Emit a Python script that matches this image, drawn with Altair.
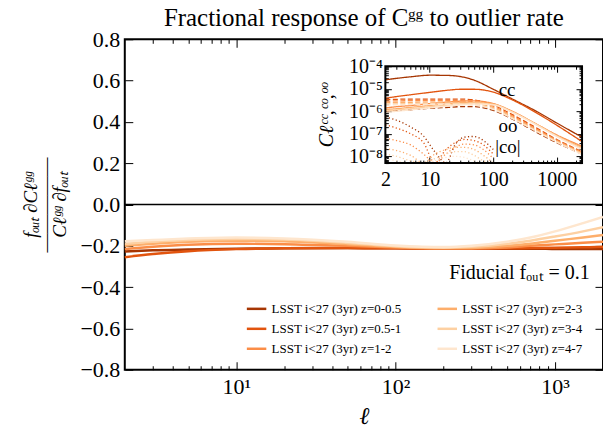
import altair as alt
import pandas as pd

W, H = 479, 331
IN_LEFT, IN_RIGHT, IN_TOP, IN_BOTTOM = 261, 458, 27, 124
SERIF = "Liberation Serif"

# ---------------- main panel data ----------------
BIN_LABELS = ["LSST i<27 (3yr) z=0-0.5", "LSST i<27 (3yr) z=0.5-1", "LSST i<27 (3yr) z=1-2",
              "LSST i<27 (3yr) z=2-3", "LSST i<27 (3yr) z=3-4", "LSST i<27 (3yr) z=4-7"]
COLORS = ["#a63603", "#e2540e", "#fb8d47", "#fdae6b", "#fdd0a2", "#fee6ce"]

L_MAIN = [2, 3, 5, 10, 20, 50, 100, 200, 300, 500, 700, 1000, 1500, 2000]
RESP_Z0 = [-0.228, -0.222, -0.218, -0.214, -0.212, -0.211, -0.212, -0.213, -0.213, -0.214, -0.214, -0.215, -0.215, -0.215]
RESP_Z1 = [-0.255, -0.240, -0.226, -0.216, -0.212, -0.211, -0.212, -0.213, -0.213, -0.212, -0.211, -0.209, -0.207, -0.205]
RESP_Z2 = [-0.215, -0.205, -0.195, -0.190, -0.192, -0.200, -0.208, -0.212, -0.212, -0.208, -0.200, -0.193, -0.185, -0.180]
RESP_Z3 = [-0.200, -0.190, -0.180, -0.175, -0.178, -0.192, -0.205, -0.211, -0.210, -0.200, -0.190, -0.175, -0.160, -0.148]
RESP_Z4 = [-0.190, -0.180, -0.172, -0.167, -0.170, -0.186, -0.202, -0.209, -0.205, -0.190, -0.175, -0.155, -0.130, -0.110]
RESP_Z5 = [-0.178, -0.172, -0.165, -0.160, -0.164, -0.180, -0.198, -0.206, -0.200, -0.180, -0.160, -0.130, -0.090, -0.060]
RESP = [RESP_Z0, RESP_Z1, RESP_Z2, RESP_Z3, RESP_Z4, RESP_Z5]

X_MAJOR = [10, 100, 1000]
X_MAJOR_LABELS = ["10¹", "10²", "10³"]
X_MINOR = [3, 4, 5, 6, 7, 8, 9, 20, 30, 40, 50, 60, 70, 80, 90, 200, 300, 400, 500, 600, 700, 800, 900]
Y_TICKS = [-0.8, -0.6, -0.4, -0.2, 0.0, 0.2, 0.4, 0.6, 0.8]

FIDUCIAL_TEXT = "Fiducial fₒᵤₜ = 0.1"
FIDUCIAL_POS = (1650, -0.333)

# ---------------- inset data ----------------
L_INSET = [2, 3, 5, 10, 20, 30, 50, 100, 200, 500, 1000, 2500]
CC_Z0 = [2.5e-5, 2.9e-5, 3.4e-5, 4.0e-5, 3.9e-5, 3.5e-5, 2.4e-5, 9.5e-6, 3.5e-6, 9.3e-7, 3.0e-7, 7.1e-8]
CC_Z1 = [3.8e-6, 4.5e-6, 5.4e-6, 6.9e-6, 8.7e-6, 9.5e-6, 9.5e-6, 7.1e-6, 3.2e-6, 7.9e-7, 2.4e-7, 4.5e-8]
CC_Z2 = [1.4e-6, 1.6e-6, 1.8e-6, 2.2e-6, 2.6e-6, 2.8e-6, 2.9e-6, 2.2e-6, 1.0e-6, 2.5e-7, 8.9e-8, 2.8e-8]
CC_Z3 = [1.2e-6, 1.3e-6, 1.5e-6, 1.8e-6, 2.2e-6, 2.4e-6, 2.5e-6, 2.1e-6, 9.5e-7, 2.5e-7, 8.3e-8, 2.5e-8]
CC_Z4 = [1.05e-6, 1.15e-6, 1.3e-6, 1.6e-6, 1.9e-6, 2.1e-6, 2.3e-6, 2.0e-6, 9.3e-7, 2.4e-7, 7.9e-8, 2.2e-8]
CC_Z5 = [8.9e-7, 1.0e-6, 1.15e-6, 1.4e-6, 1.7e-6, 1.9e-6, 2.1e-6, 1.9e-6, 8.9e-7, 2.3e-7, 7.6e-8, 2.0e-8]
OO_Z0 = [1.0e-6, 1.07e-6, 1.17e-6, 1.35e-6, 1.5e-6, 1.6e-6, 1.6e-6, 1.1e-6, 4.5e-7, 1.1e-7, 4.0e-8, 1.26e-8]
OO_Z1 = [3.3e-6, 3.4e-6, 3.5e-6, 3.5e-6, 3.5e-6, 3.5e-6, 3.2e-6, 1.9e-6, 7.1e-7, 1.7e-7, 5.6e-8, 1.6e-8]
OO_Z2 = [2.8e-6, 2.9e-6, 2.95e-6, 3.0e-6, 3.0e-6, 2.95e-6, 2.7e-6, 1.66e-6, 6.3e-7, 1.5e-7, 5.2e-8, 1.5e-8]
OO_Z3 = [2.4e-6, 2.45e-6, 2.5e-6, 2.55e-6, 2.55e-6, 2.5e-6, 2.3e-6, 1.45e-6, 5.6e-7, 1.35e-7, 4.8e-8, 1.4e-8]
OO_Z4 = [2.1e-6, 2.15e-6, 2.2e-6, 2.25e-6, 2.25e-6, 2.2e-6, 2.0e-6, 1.3e-6, 5.0e-7, 1.25e-7, 4.5e-8, 1.3e-8]
OO_Z5 = [1.9e-6, 1.95e-6, 2.0e-6, 2.05e-6, 2.05e-6, 2.0e-6, 1.85e-6, 1.2e-6, 4.7e-7, 1.2e-7, 4.2e-8, 1.2e-8]
L_CO = [2, 3, 5, 8, 12, 18, 25, 35, 50, 70, 100]
CO_Z0 = [5.6e-7, 4.0e-7, 2.0e-7, 7.9e-8, 1.6e-8, 5.1e-9, 3.2e-8, 7.1e-8, 7.6e-8, 5.0e-8, 2.0e-8]
CO_Z1 = [2.5e-7, 1.8e-7, 1.0e-7, 4.0e-8, 5.1e-9, 2.0e-8, 4.0e-8, 5.6e-8, 5.0e-8, 3.2e-8, 1.26e-8]
CO_Z2 = [6.3e-8, 5.0e-8, 3.2e-8, 1.26e-8, 5.1e-9, 1.26e-8, 2.5e-8, 3.5e-8, 3.2e-8, 2.0e-8, 7.9e-9]
CO_Z3 = [2.2e-8, 1.8e-8, 1.1e-8, 5.1e-9, 1.26e-8, 2.0e-8, 2.5e-8, 2.5e-8, 2.0e-8, 1.1e-8, 5.1e-9]
CO_Z4 = [1.26e-8, 1.0e-8, 6.3e-9, 5.1e-9, 7.9e-9, 1.26e-8, 1.6e-8, 1.6e-8, 1.1e-8, 6.3e-9, 5.1e-9]
CO_Z5 = [7.9e-9, 6.3e-9, 5.1e-9, 5.1e-9, 6.3e-9, 8.9e-9, 1.0e-8, 8.9e-9, 6.3e-9, 5.1e-9, 5.1e-9]
CC = [CC_Z0, CC_Z1, CC_Z2, CC_Z3, CC_Z4, CC_Z5]
OO = [OO_Z0, OO_Z1, OO_Z2, OO_Z3, OO_Z4, OO_Z5]
CO = [CO_Z0, CO_Z1, CO_Z2, CO_Z3, CO_Z4, CO_Z5]

INSET_X_LABELS = [2, 10, 100, 1000]
INSET_X_MINOR = [3, 4, 5, 6, 7, 8, 9, 20, 30, 40, 50, 60, 70, 80, 90,
                 200, 300, 400, 500, 600, 700, 800, 900, 2000]
INSET_Y_MAJOR = [1e-8, 1e-7, 1e-6, 1e-5, 1e-4]
INSET_Y_LABELS = ["10⁻⁸", "10⁻⁷", "10⁻⁶", "10⁻⁵", "10⁻⁴"]
INSET_Y_MINOR = [k * 10.0 ** e for e in range(-9, -4) for k in range(2, 10)
                 if 5e-9 <= k * 10.0 ** e <= 1e-4]
INSET_TEXT = ["cc", "oo", "|co|"]
INSET_TEXT_L = [165, 170, 170]
INSET_TEXT_C = [9.1e-6, 2.3e-7, 2.5e-8]


# ---------------- scales ----------------
def sc_mx():
    return alt.Scale(type="log", domain=[2, 2000], range=[0, W], nice=False)


def sc_my():
    return alt.Scale(domain=[-0.8, 0.8], range=[H, 0], nice=False, zero=False)


def sc_ix():
    return alt.Scale(type="log", domain=[2, 2500], range=[IN_LEFT, IN_RIGHT], nice=False)


def sc_iy():
    return alt.Scale(type="log", domain=[5e-9, 1e-4], range=[IN_BOTTOM, IN_TOP], nice=False)


def tick_axis(orient, values, size, offset, **kw):
    spec = dict(orient=orient, values=values, tickSize=size, offset=offset, labels=False,
                domain=False, grid=False, ticks=True, tickColor="black", tickWidth=1)
    spec.update(kw)
    return alt.Axis(**spec)


def ghost(xscale, xaxis, yscale, yaxis, xv, yv, ytitle=None):
    df = pd.DataFrame({"gx": [xv], "gy": [yv]})
    return alt.Chart(df).mark_point(opacity=0).encode(
        x=alt.X("gx:Q", scale=xscale, axis=xaxis, title=None),
        y=alt.Y("gy:Q", scale=yscale, axis=yaxis, title=ytitle),
    )


def cond_expr(values, labels, key):
    parts = ""
    for v, lab in zip(values, labels):
        parts += f"{key} == {v} ? '{lab}' : "
    return parts + "''"


# ---------------- main lines ----------------
rows = []
for lab, vals in zip(BIN_LABELS, RESP):
    for l, v in zip(L_MAIN, vals):
        rows.append({"l": l, "r": v, "bin": lab})
main_df = pd.DataFrame(rows)

x_main_axis = tick_axis(
    "bottom", X_MAJOR, 8, -8, labels=True,
    labelExpr=cond_expr(X_MAJOR, X_MAJOR_LABELS, "datum.value"),
    labelFontSize=22, labelPadding=7, labelFlush=False,
    titleFontSize=24, titleFontStyle="italic", titlePadding=7)
y_main_axis = tick_axis(
    "left", Y_TICKS, 8, -8, labels=True, format=".1f",
    labelFontSize=22, labelPadding=5, labelFlush=False,
    titleFontSize=19, titleFontStyle="italic", titlePadding=10, titleLineHeight=15)

lines = alt.Chart(main_df).mark_line(strokeWidth=2.5, interpolate="monotone").encode(
    x=alt.X("l:Q", scale=sc_mx(), axis=x_main_axis, title="ℓ"),
    y=alt.Y("r:Q", scale=sc_my(), axis=y_main_axis,
            title=["fₒᵤₜ ∂Cℓᵍᵍ", "―――――", "Cℓᵍᵍ ∂fₒᵤₜ"]),
    color=alt.Color("bin:N", scale=alt.Scale(domain=BIN_LABELS, range=COLORS),
                    legend=alt.Legend(orient="none", legendX=121, legendY=259, columns=2,
                                      symbolType="stroke", symbolStrokeWidth=2.5, symbolSize=380,
                                      labelFont=SERIF, labelFontSize=13, labelColor="black",
                                      rowPadding=2, columnPadding=30, padding=0, title=None,
                                      labelLimit=300)),
)

zero = alt.Chart(pd.DataFrame({"z": [0.0]})).mark_rule(color="black", strokeWidth=1.5).encode(
    y=alt.Y("z:Q", scale=sc_my(), axis=None))

fid = alt.Chart(pd.DataFrame({"l": [FIDUCIAL_POS[0]], "v": [FIDUCIAL_POS[1]], "t": [FIDUCIAL_TEXT]})).mark_text(
    align="right", baseline="middle", font=SERIF, fontSize=20, color="black").encode(
    x=alt.X("l:Q", scale=sc_mx(), axis=None),
    y=alt.Y("v:Q", scale=sc_my(), axis=None),
    text="t:N")

# ---------------- axes (ticks on every side) ----------------
g_b = ghost(sc_mx(), tick_axis("bottom", X_MINOR, 4, -4),
            sc_my(), tick_axis("right", Y_TICKS, 8, -8), 10, 0.0)
g_c = ghost(sc_mx(), tick_axis("top", X_MAJOR, 8, -8),
            sc_iy(), tick_axis("left", INSET_Y_MAJOR, 6, -(IN_LEFT + 6), labels=True,
                               labelExpr=cond_expr([-8, -7, -6, -5, -4], INSET_Y_LABELS,
                                                   "round(log(datum.value)/LN10)"),
                               labelFontSize=20, labelPadding=3, labelFlush=False,
                               titleFontSize=20, titleFontStyle="italic", titlePadding=12),
            10, 1e-6, ytitle="Cℓᶜᶜ,ᶜᵒ,ᵒᵒ")
g_d = ghost(sc_mx(), tick_axis("top", X_MINOR, 4, -4),
            sc_iy(), tick_axis("left", INSET_Y_MINOR, 3, -(IN_LEFT + 3)), 10, 1e-6)
g_e = ghost(sc_ix(), tick_axis("bottom", INSET_X_LABELS, 6, IN_BOTTOM - 6 - H, labels=True,
                               format=".0f", labelFontSize=20, labelPadding=6, labelFlush=False),
            sc_iy(), tick_axis("right", INSET_Y_MAJOR, 6, IN_RIGHT - 6 - W), 10, 1e-6)
g_f = ghost(sc_ix(), tick_axis("bottom", INSET_X_MINOR, 3, IN_BOTTOM - 3 - H),
            sc_iy(), tick_axis("right", INSET_Y_MINOR, 3, IN_RIGHT - 3 - W), 10, 1e-6)
g_g = ghost(sc_ix(), tick_axis("top", [10, 100, 1000], 6, -(IN_TOP + 6)),
            sc_iy(), None, 10, 1e-6)
g_h = ghost(sc_ix(), tick_axis("top", INSET_X_MINOR, 3, -(IN_TOP + 3)),
            sc_iy(), None, 10, 1e-6)

# ---------------- inset ----------------
irows = []
for i in range(6):
    for l, c in zip(L_INSET, CC[i]):
        irows.append({"l": l, "c": c, "kind": "cc", "col": COLORS[i], "grp": f"cc{i}"})
    for l, c in zip(L_INSET, OO[i]):
        irows.append({"l": l, "c": c, "kind": "oo", "col": COLORS[i], "grp": f"oo{i}"})
    for l, c in zip(L_CO, CO[i]):
        irows.append({"l": l, "c": c, "kind": "co", "col": COLORS[i], "grp": f"co{i}"})
inset_df = pd.DataFrame(irows)

inset_lines = alt.Chart(inset_df).mark_line(strokeWidth=1.3, interpolate="monotone").encode(
    x=alt.X("l:Q", scale=sc_ix(), axis=None),
    y=alt.Y("c:Q", scale=sc_iy(), axis=None),
    color=alt.Color("col:N", scale=None),
    strokeDash=alt.StrokeDash("kind:N", scale=alt.Scale(domain=["cc", "oo", "co"],
                                                        range=[[1, 0], [5, 2.5], [1.2, 2.4]]),
                              legend=None),
    detail="grp:N",
)

frame_df = pd.DataFrame({"x1": [2], "x2": [2500], "y1": [1e-4], "y2": [5e-9]})
inset_frame = alt.Chart(frame_df).mark_rect(fillOpacity=0, stroke="black", strokeWidth=2).encode(
    x=alt.X("x1:Q", scale=sc_ix(), axis=None), x2="x2:Q",
    y=alt.Y("y1:Q", scale=sc_iy(), axis=None), y2="y2:Q")

inset_text = alt.Chart(pd.DataFrame({"l": INSET_TEXT_L, "c": INSET_TEXT_C, "t": INSET_TEXT})).mark_text(
    font=SERIF, fontSize=19, color="black", align="center", baseline="middle").encode(
    x=alt.X("l:Q", scale=sc_ix(), axis=None),
    y=alt.Y("c:Q", scale=sc_iy(), axis=None),
    text="t:N")

chart = alt.layer(
    zero, lines, g_b, g_c, g_d, g_e, g_f, g_g, g_h, fid, inset_lines, inset_frame, inset_text
).resolve_scale(
    x="independent", y="independent", color="independent", strokeDash="independent"
).properties(
    width=W, height=H,
    autosize="none",
    padding={"left": 125, "top": 39, "right": 0, "bottom": 58},
    title=alt.TitleParams("Fractional response of Cᵍᵍ to outlier rate", font=SERIF, fontSize=25,
                          fontWeight="normal", color="black", anchor="middle", frame="group",
                          offset=12, dy=15),
).configure_view(
    stroke="black", strokeWidth=2
).configure_axis(
    labelFont=SERIF, titleFont=SERIF, labelColor="black", titleColor="black",
    titleFontWeight="normal"
)

chart.save("out.html", embed_options={"renderer": "svg", "actions": False})
